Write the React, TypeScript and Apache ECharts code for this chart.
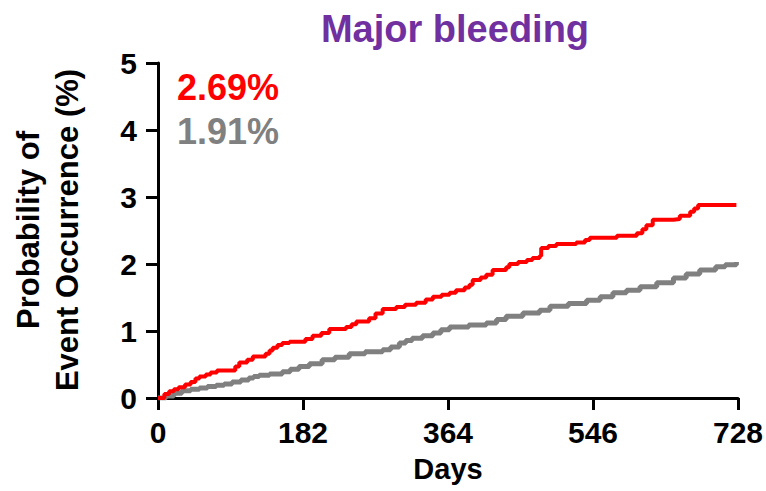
import React, { useEffect, useRef } from "react";
import * as echarts from "echarts";

// Cumulative incidence steps: day at which the curve jumps, and the new level (%)
const redDays = [0, 8, 14, 20, 26, 34, 41, 47, 52, 60, 66, 74, 97, 102, 112, 119, 135, 140, 144, 150, 156, 165, 185, 194, 205, 215, 236, 243, 249, 265, 273, 282, 299, 310, 324, 336, 345, 356, 366, 374, 385, 391, 395, 405, 412, 420, 437, 441, 452, 463, 470, 479, 481, 490, 500, 525, 536, 542, 576, 601, 608, 613, 621, 647, 655, 668, 673, 678, 726];
const redValues = [0, 0.06, 0.1, 0.13, 0.16, 0.2, 0.24, 0.29, 0.32, 0.35, 0.38, 0.41, 0.47, 0.53, 0.57, 0.62, 0.66, 0.71, 0.75, 0.79, 0.82, 0.84, 0.88, 0.93, 0.97, 1.03, 1.06, 1.1, 1.14, 1.19, 1.26, 1.33, 1.36, 1.39, 1.42, 1.47, 1.51, 1.54, 1.57, 1.61, 1.65, 1.69, 1.76, 1.8, 1.84, 1.91, 1.95, 2.0, 2.03, 2.06, 2.09, 2.12, 2.24, 2.27, 2.3, 2.32, 2.36, 2.39, 2.42, 2.46, 2.52, 2.58, 2.66, 2.67, 2.72, 2.78, 2.83, 2.88, 2.88];

const grayDays = [0, 10, 20, 30, 41, 52, 62, 73, 83, 93, 104, 114, 120, 127, 140, 156, 166, 177, 190, 206, 222, 240, 260, 282, 292, 303, 311, 319, 332, 345, 355, 366, 390, 412, 425, 437, 458, 479, 492, 515, 538, 555, 571, 588, 605, 626, 647, 663, 680, 700, 712, 726];
const grayValues = [0, 0.03, 0.07, 0.11, 0.13, 0.15, 0.17, 0.19, 0.21, 0.24, 0.27, 0.3, 0.32, 0.34, 0.36, 0.39, 0.43, 0.47, 0.51, 0.57, 0.61, 0.66, 0.69, 0.72, 0.76, 0.82, 0.86, 0.89, 0.93, 0.97, 1.02, 1.06, 1.09, 1.12, 1.17, 1.22, 1.27, 1.31, 1.37, 1.41, 1.46, 1.51, 1.57, 1.61, 1.66, 1.72, 1.79, 1.85, 1.91, 1.96, 1.99, 2.03];

const xTicks = [0, 182, 364, 546, 728];
const yTicks = [0, 1, 2, 3, 4, 5];
const rateLabels = ["2.69%", "1.91%"];
const yTitleLines = ["Probability of", "Event Occurrence (%)"];

const FONT = '"Liberation Sans", Arial, Helvetica, sans-serif';
const RED = "#ff0000";
const GRAY = "#808080";

const pairs = (xs: number[], ys: number[]) => xs.map((x, i) => [x, ys[i]]);

export default function App() {
  const ref = useRef<HTMLDivElement>(null);

  useEffect(() => {
    if (!ref.current) return;
    const chart = echarts.init(ref.current, null, { renderer: "svg" });

    const axisCommon = {
      axisLine: { show: true, onZero: false, lineStyle: { color: "#000", width: 3 } },
      axisTick: { show: true, length: 12, lineStyle: { color: "#000", width: 3 } },
      splitLine: { show: false },
    };

    const tickFont = {
      color: "#000",
      fontSize: 30,
      fontWeight: "bold",
      fontFamily: FONT,
    };

    chart.setOption({
      animation: false,
      backgroundColor: "#fff",
      grid: { left: 158, right: 28, top: 63, bottom: 93, containLabel: false },
      xAxis: {
        type: "value",
        min: xTicks[0],
        max: xTicks[xTicks.length - 1],
        interval: xTicks[1] - xTicks[0],
        ...axisCommon,
        axisLabel: { ...tickFont, margin: 19 },
        name: "Days",
        nameLocation: "middle",
        nameGap: 56,
        nameTextStyle: { color: "#000", fontSize: 29, fontWeight: "bold", fontFamily: FONT },
      },
      yAxis: {
        type: "value",
        min: yTicks[0],
        max: yTicks[yTicks.length - 1],
        interval: 1,
        ...axisCommon,
        axisLabel: { ...tickFont, margin: 21 },
      },
      series: [
        {
          type: "line",
          step: "end",
          data: pairs(grayDays, grayValues),
          showSymbol: false,
          lineStyle: { color: GRAY, width: 5 },
          z: 2,
        },
        {
          type: "line",
          step: "end",
          data: pairs(redDays, redValues),
          showSymbol: false,
          lineStyle: { color: RED, width: 4 },
          z: 3,
        },
      ],
      graphic: [
        {
          type: "text",
          x: 455,
          y: 29,
          style: {
            text: "Major bleeding",
            fill: "#7030a0",
            font: `bold 38px ${FONT}`,
            align: "center",
            verticalAlign: "middle",
          },
        },
        ...yTitleLines.map((line, i) => ({
          type: "text",
          x: 28 + i * 39,
          y: 230,
          rotation: Math.PI / 2,
          style: {
            text: line,
            fill: "#000",
            font: `bold 31px ${FONT}`,
            align: "center",
            verticalAlign: "middle",
          },
        })),
        ...rateLabels.map((label, i) => ({
          type: "text",
          x: 177,
          y: 87 + i * 44,
          style: {
            text: label,
            fill: i === 0 ? RED : GRAY,
            font: `bold 36px ${FONT}`,
            align: "left",
            verticalAlign: "middle",
          },
        })),
      ],
    });

    return () => chart.dispose();
  }, []);

  return (
    <div
      ref={ref}
      style={{ position: "fixed", left: 0, top: 0, width: 766, height: 491, background: "#fff" }}
    />
  );
}
